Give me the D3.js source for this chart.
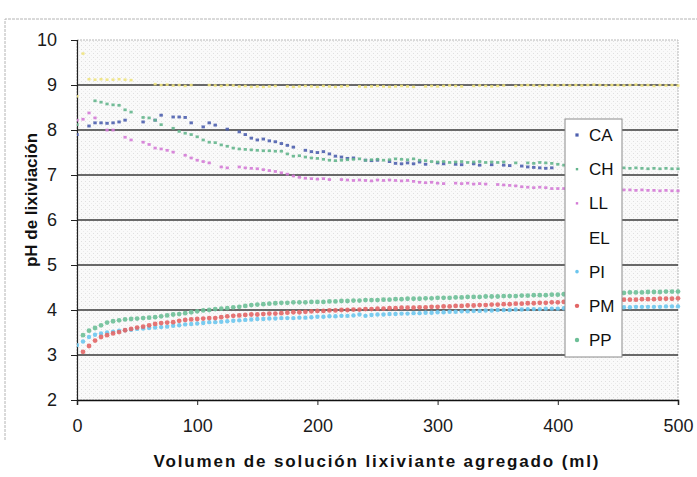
<!DOCTYPE html>
<html>
<head>
<meta charset="utf-8">
<script src="https://cdn.jsdelivr.net/npm/d3@7"></script>
<style>
  html, body { margin: 0; padding: 0; background: #ffffff; }
  svg { display: block; font-family: "Liberation Sans", Arial, sans-serif; }
</style>
</head>
<body>
<svg id="chart" width="697" height="477"></svg>
<script>
// Volumen agregado (ml) en cada lectura
const volumen = [
  0, 5, 10, 15, 20, 25, 30, 35, 40, 45,
  50, 55, 60, 65, 70, 75, 80, 85, 90, 95,
  100, 105, 110, 115, 120, 125, 130, 135, 140, 145,
  150, 155, 160, 165, 170, 175, 180, 185, 190, 195,
  200, 205, 210, 215, 220, 225, 230, 235, 240, 245,
  250, 255, 260, 265, 270, 275, 280, 285, 290, 295,
  300, 305, 310, 315, 320, 325, 330, 335, 340, 345,
  350, 355, 360, 365, 370, 375, 380, 385, 390, 395,
  400, 405, 410, 415, 420, 425, 430, 435, 440, 445,
  450, 455, 460, 465, 470, 475, 480, 485, 490, 495,
  500
];

// pH de lixiviación por muestra (null = sin lectura)
const phCA = [
  7.9, null, 8.09, 8.16, 8.16, 8.15, 8.16, 8.18, 8.22, null,
  null, 8.18, null, 8.22, 8.33, null, 8.29, 8.29, 8.28, 8.16,
  null, 8.07, 8.16, 8.11, null, 8.02, null, 7.96, 7.9, 7.82,
  7.78, 7.8, 7.76, 7.74, 7.7, 7.66, 7.62, null, 7.55, 7.52,
  7.5, 7.52, 7.47, 7.42, 7.4, 7.37, 7.38, null, 7.33, 7.32,
  7.33, null, 7.3, 7.26, 7.25, 7.27, 7.25, 7.29, 7.24, null,
  7.27, 7.25, null, 7.24, 7.23, null, 7.25, 7.22, null, 7.23,
  null, 7.22, 7.21, null, 7.2, 7.18, 7.17, 7.16, 7.15, 7.16,
  null, null, null, null, null, null, null, null, null, null,
  null, null, null, null, null, null, null, null, null, null,
  null
];
const phCH = [
  8.12, null, null, 8.65, 8.62, 8.58, 8.56, 8.55, 8.45, 8.4,
  null, 8.28, 8.27, 8.22, 8.12, null, 8.04, 7.97, 7.93, 7.9,
  7.85, 7.78, 7.73, 7.72, 7.67, 7.64, 7.6, 7.58, 7.57, 7.56,
  7.55, 7.54, 7.54, 7.53, 7.53, 7.47, 7.42, 7.43, 7.4, 7.38,
  7.37, 7.35, 7.33, 7.32, 7.33, 7.34, 7.35, 7.36, 7.33, 7.34,
  7.35, 7.33, 7.34, 7.36, 7.35, 7.34, 7.36, 7.33, 7.32, 7.3,
  7.29, 7.3, 7.28, 7.29, 7.3, 7.28, 7.29, 7.3, 7.28, 7.29,
  7.28, 7.29, null, 7.27, null, 7.27, 7.26, 7.28, 7.27, 7.26,
  7.24, 7.22, 7.2, 7.2, 7.19, 7.18, 7.18, 7.17, 7.17, 7.16,
  7.16, 7.16, 7.15, 7.16, 7.15, 7.14, 7.15, 7.14, 7.15, 7.14,
  7.14
];
const phLL = [
  8.22, 8.24, 8.38, 8.27, null, 8.0, 8.0, null, 7.84, 7.78,
  null, 7.73, 7.68, 7.6, 7.58, 7.55, 7.51, null, 7.44, 7.38,
  7.33, 7.3, 7.27, null, 7.18, 7.16, null, 7.18, 7.16, 7.15,
  7.14, 7.12, 7.1, 7.08, 7.05, 7.02, 6.98, 6.95, 6.93, 6.92,
  6.91, 6.92, 6.9, null, 6.9, 6.89, 6.88, 6.89, 6.88, 6.87,
  6.89, 6.88, 6.89, 6.88, 6.87, 6.88, 6.86, 6.84, 6.83, 6.84,
  6.82, 6.81, null, 6.82, 6.81, 6.82, 6.8, 6.81, 6.8, null,
  6.79, 6.78, 6.77, 6.76, 6.74, 6.73, 6.72, 6.73, 6.72, 6.7,
  6.7, 6.7, 6.69, 6.7, 6.69, 6.68, 6.69, 6.68, 6.68, 6.67,
  6.68, 6.67, 6.67, 6.66, 6.67, 6.66, 6.66, 6.65, 6.66, 6.65,
  6.65
];
const phEL = [
  8.75, 9.7, 9.13, 9.12, 9.13, 9.12, 9.12, 9.13, 9.12, 9.11,
  null, null, null, 9.02, 9.0, 9.01, 8.99, 9.0, 8.98, 9.0,
  null, null, 9.0, 8.99, 8.98, 9.0, 8.99, 8.97, 8.98, 8.96,
  8.97, 8.96, 8.97, 8.98, null, 8.97, 8.96, 8.97, 8.98, 8.97,
  8.96, 8.98, 8.97, 8.96, 8.97, 8.98, null, 8.97, 8.96, 8.97,
  8.98, 8.97, 8.96, 8.97, 8.98, 8.97, 8.96, null, 8.97, 8.98,
  8.97, 8.98, 8.99, 8.98, 8.97, null, 8.98, 8.99, 8.98, 8.97,
  8.98, 8.99, null, 8.98, 8.99, 9.0, 8.99, 8.98, 8.99, 9.0,
  8.99, 9.0, 8.99, 9.0, 8.99, 9.0, 9.01, 9.0, 8.99, 9.0,
  9.0, 8.99, 9.0, 9.01, 8.99, 9.0, 8.98, 9.0, 8.99, 9.0,
  8.99
];
const phPI = [
  3.22, 3.3, 3.4, 3.45, 3.48, 3.5, 3.52, 3.54, 3.55, 3.56,
  3.58, 3.59, 3.6, 3.61, 3.62, 3.63, 3.65, 3.66, 3.68, 3.69,
  3.7, 3.71, 3.73, 3.73, 3.74, 3.75, 3.76, 3.77, 3.78, 3.79,
  3.8, 3.8, 3.81, 3.81, 3.82, 3.82, 3.82, 3.83, 3.83, 3.84,
  3.85, 3.85, 3.86, 3.86, 3.87, 3.87, 3.88, 3.9, 3.87, 3.89,
  3.9, 3.9, 3.91, 3.91, 3.92, 3.92, 3.93, 3.93, 3.94, 3.94,
  3.95, 3.95, 3.96, 3.96, 3.97, 3.97, 3.98, 3.98, 3.99, 3.99,
  4.0, 4.0, 4.0, 4.01, 4.01, 4.02, 4.02, 4.02, 4.03, 4.03,
  4.03, 4.04, 4.04, 4.04, 4.05, 4.05, 4.05, 4.05, 4.06, 4.06,
  4.06, 4.06, 4.06, 4.07, 4.07, 4.07, 4.07, 4.07, 4.08, 4.08,
  4.08
];
const phPM = [
  null, 3.07, 3.2, 3.32, 3.4, 3.44, 3.48, 3.51, 3.55, 3.58,
  3.61, 3.63, 3.66, 3.69, 3.71, 3.72, 3.73, 3.76, 3.78, 3.79,
  3.8, 3.81, 3.82, 3.82, 3.84, 3.86, 3.87, 3.88, 3.89, 3.9,
  3.9, 3.91, 3.92, 3.92, 3.93, 3.94, 3.95, 3.95, 3.96, 3.97,
  3.98, 3.98, 3.99, 3.99, 4.0, 4.0, 4.01, 4.01, 4.02, 4.02,
  4.03, 4.03, 4.04, 4.04, 4.05, 4.05, 4.05, 4.06, 4.06, 4.07,
  4.07, 4.08, 4.08, 4.09, 4.09, 4.1, 4.1, 4.11, 4.11, 4.12,
  4.12, 4.13, 4.13, 4.14, 4.14, 4.15, 4.15, 4.16, 4.16, 4.17,
  4.17, 4.18, 4.18, 4.19, 4.19, 4.2, 4.2, 4.21, 4.21, 4.22,
  4.22, 4.23, 4.23, 4.23, 4.24, 4.24, 4.24, 4.25, 4.25, 4.25,
  4.26
];
const phPP = [
  null, 3.44, 3.54, 3.6, 3.66, 3.72, 3.75, 3.77, 3.79, 3.8,
  3.81, 3.82, 3.83, 3.84, 3.86, 3.88, 3.9, 3.91, 3.93, 3.95,
  3.97, 3.99, 4.0, 4.02, 4.03, 4.04, 4.06, 4.07, 4.09, 4.11,
  4.12, 4.13, 4.14, 4.15, 4.16, 4.16, 4.17, 4.17, 4.17, 4.18,
  4.18, 4.18, 4.19, 4.19, 4.2, 4.2, 4.21, 4.21, 4.22, 4.22,
  4.22, 4.23, 4.23, 4.24, 4.24, 4.25, 4.25, 4.25, 4.26, 4.26,
  4.27, 4.27, 4.27, 4.28, 4.28, 4.29, 4.29, 4.29, 4.3, 4.3,
  4.3, 4.31, 4.31, 4.31, 4.32, 4.32, 4.33, 4.33, 4.33, 4.34,
  4.34, 4.35, 4.35, 4.35, 4.36, 4.36, 4.37, 4.37, 4.37, 4.38,
  4.38, 4.38, 4.39, 4.39, 4.39, 4.4, 4.4, 4.4, 4.41, 4.41,
  4.41
];

const seriesNames = ["CA", "CH", "LL", "EL", "PI", "PM", "PP"];
const seriesValues = [phCA, phCH, phLL, phEL, phPI, phPM, phPP];
const xTicks = [0, 100, 200, 300, 400, 500];
const yTicks = [2, 3, 4, 5, 6, 7, 8, 9, 10];

// Marker look for each series
const style = {
  CA: { color: "#4d5fae", shape: "square", size: 3.4 },
  CH: { color: "#63b58c", shape: "square", size: 3.2 },
  LL: { color: "#d47ad6", shape: "square", size: 3.2 },
  EL: { color: "#efe37c", shape: "square", size: 3.0 },
  PI: { color: "#6cc6ee", shape: "circle", size: 2.2 },
  PM: { color: "#e26666", shape: "circle", size: 2.4 },
  PP: { color: "#6dbf97", shape: "circle", size: 2.4 }
};

const svg = d3.select("#chart");
const plot = { left: 77, right: 678, top: 40, bottom: 400 };

const x = d3.scaleLinear().domain([0, 500]).range([plot.left, plot.right]);
const y = d3.scaleLinear().domain([2, 10]).range([plot.bottom, plot.top]);

// Outer frame (partial, light dashed)
svg.append("path")
  .attr("d", `M5,440 L5,19 L697,19`)
  .attr("fill", "none")
  .attr("stroke", "#b4b4b4")
  .attr("stroke-width", 1)
  .attr("stroke-dasharray", "3,1");

// Halftone-like plot background
const defs = svg.append("defs");
const pat = defs.append("pattern")
  .attr("id", "dots").attr("width", 4).attr("height", 4)
  .attr("patternUnits", "userSpaceOnUse");
pat.append("rect").attr("width", 4).attr("height", 4).attr("fill", "#fafafa");
pat.append("rect").attr("x", 1).attr("y", 1).attr("width", 1).attr("height", 1).attr("fill", "#e0e0e0");
pat.append("rect").attr("x", 3).attr("y", 3).attr("width", 1).attr("height", 1).attr("fill", "#ebebeb");

svg.append("rect")
  .attr("x", plot.left).attr("y", plot.top)
  .attr("width", plot.right - plot.left).attr("height", plot.bottom - plot.top)
  .attr("fill", "url(#dots)")
  .attr("stroke", "#b8b8b8")
  .attr("stroke-dasharray", "2,1")
  .attr("stroke-width", 1);

// Horizontal gridlines
svg.append("g")
  .selectAll("line")
  .data(yTicks.filter(d => d > 2 && d < 10))
  .join("line")
  .attr("x1", plot.left).attr("x2", plot.right)
  .attr("y1", d => y(d)).attr("y2", d => y(d))
  .attr("stroke", "#3a3a3a")
  .attr("stroke-width", 1.3);

// Axes
const yAxis = d3.axisLeft(y).tickValues(yTicks).tickSize(6).tickPadding(14).tickFormat(d3.format("d"));
const gy = svg.append("g").attr("transform", `translate(${plot.left},0)`).call(yAxis);
gy.select(".domain").attr("stroke", "#222").attr("stroke-width", 1.2);
gy.selectAll(".tick line").attr("stroke", "#222");
gy.selectAll(".tick text")
  .attr("font-size", 18).attr("fill", "#1a1a1a")
  .attr("font-family", "Liberation Sans, Arial, sans-serif");

const xAxis = d3.axisBottom(x).tickValues(xTicks).tickSize(5).tickPadding(14).tickFormat(d3.format("d"));
const gx = svg.append("g").attr("transform", `translate(0,${plot.bottom})`).call(xAxis);
gx.select(".domain").attr("stroke", "#111").attr("stroke-width", 1.5);
gx.selectAll(".tick line").attr("stroke", "#222");
gx.selectAll(".tick text")
  .attr("font-size", 18).attr("fill", "#1a1a1a")
  .attr("font-family", "Liberation Sans, Arial, sans-serif");

// Data markers
const clip = defs.append("clipPath").attr("id", "plotclip");
clip.append("rect").attr("x", plot.left).attr("y", plot.top - 4)
  .attr("width", plot.right - plot.left + 4).attr("height", plot.bottom - plot.top + 4);

const marks = svg.append("g").attr("clip-path", "url(#plotclip)");
seriesNames.forEach((name, si) => {
  const st = style[name];
  const pts = volumen.map((v, i) => ({ v, ph: seriesValues[si][i] })).filter(d => d.ph !== null);
  const g = marks.append("g").attr("class", "serie-" + name);
  if (st.shape === "circle") {
    g.selectAll("circle").data(pts).join("circle")
      .attr("cx", d => x(d.v)).attr("cy", d => y(d.ph))
      .attr("r", st.size)
      .attr("fill", st.color).attr("fill-opacity", 0.9);
  } else {
    g.selectAll("rect").data(pts).join("rect")
      .attr("x", d => x(d.v) - st.size / 2).attr("y", d => y(d.ph) - st.size / 2 + 0.3)
      .attr("width", st.size).attr("height", st.size * 0.85)
      .attr("fill", st.color).attr("fill-opacity", 0.9);
  }
});

// Legend
const legend = svg.append("g");
legend.append("rect")
  .attr("x", 565).attr("y", 119).attr("width", 57).attr("height", 238)
  .attr("fill", "#ffffff").attr("stroke", "#8a8a8a").attr("stroke-width", 1);
const ly = d3.scalePoint().domain(seriesNames).range([135, 340]);
seriesNames.forEach(name => {
  const st = style[name];
  const cy = ly(name);
  if (name === "EL") {
    // marker too faint to see on paper
  } else if (st.shape === "circle") {
    legend.append("circle").attr("cx", 577).attr("cy", cy).attr("r", name === "PI" ? 1.8 : 2.2)
      .attr("fill", st.color);
  } else {
    const s = name === "CA" ? 3.2 : 2.4;
    legend.append("rect").attr("x", 577 - s / 2).attr("y", cy - s / 2).attr("width", s).attr("height", s)
      .attr("fill", st.color);
  }
  legend.append("text")
    .attr("x", 589).attr("y", cy).attr("dy", "0.36em")
    .attr("font-size", 17).attr("fill", "#111")
    .text(name);
});

// Axis titles
svg.append("text")
  .attr("x", 376).attr("y", 467)
  .attr("text-anchor", "middle")
  .attr("font-size", 17).attr("font-weight", "bold").attr("fill", "#111")
  .attr("textLength", 445).attr("lengthAdjust", "spacing")
  .text("Volumen de solución lixiviante agregado (ml)");

svg.append("text")
  .attr("transform", "translate(37,200) rotate(-90)")
  .attr("text-anchor", "middle")
  .attr("font-size", 17).attr("font-weight", "bold").attr("fill", "#111")
  .text("pH de lixiviación");
</script>
</body>
</html>
